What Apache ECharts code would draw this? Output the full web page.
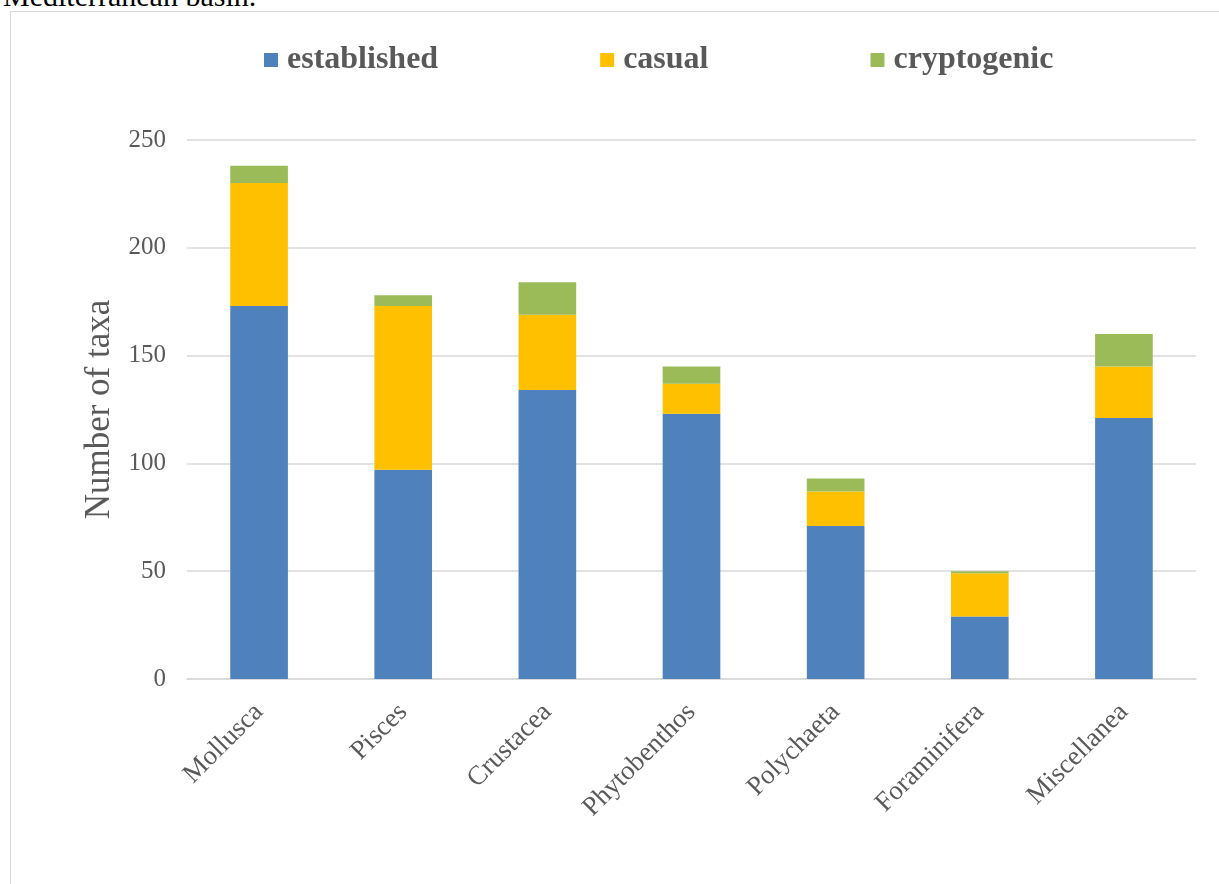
<!DOCTYPE html>
<html>
<head>
<meta charset="utf-8">
<script src="https://cdn.jsdelivr.net/npm/echarts@6/dist/echarts.min.js"></script>
<style>
  html, body { margin: 0; padding: 0; background: #fff; }
  #cap { position: absolute; left: 3px; top: -19px; font: 30px/30px "Liberation Serif", serif; color: #000; white-space: nowrap; }
  #frame { position: absolute; left: 10px; top: 11px; width: 1230px; height: 900px; border: 1px solid #d9d9d9; box-sizing: border-box; }
  #chart { position: absolute; left: 0; top: 0; width: 1219px; height: 884px; }
</style>
</head>
<body>
<div id="cap">Mediterranean basin.</div>
<div id="frame"></div>
<div id="chart"></div>
<script>
const categories = ['Mollusca', 'Pisces', 'Crustacea', 'Phytobenthos', 'Polychaeta', 'Foraminifera', 'Miscellanea'];
const established = [173, 97, 134, 123, 71, 29, 121];
const casual = [57, 76, 35, 14, 16, 20, 24];
const cryptogenic = [8, 5, 15, 8, 6, 1, 15];
const seriesNames = ['established', 'casual', 'cryptogenic'];
const colors = ['#4F81BD', '#FFC000', '#9BBB59'];

const font = '"Liberation Serif", "Times New Roman", serif';
const gray = '#595959';
const chart = echarts.init(document.getElementById('chart'), null, { renderer: 'canvas' });
const dataSets = [established, casual, cryptogenic];
chart.setOption({
  animation: false,
  backgroundColor: 'transparent',
  color: colors,
  legend: {
    left: 259, top: 39,
    itemWidth: 14, itemHeight: 14, itemGap: 162,
    icon: 'rect',
    data: seriesNames,
    textStyle: { fontFamily: font, fontWeight: 'bold', fontSize: 32, color: gray, padding: [0, 0, 0, 4] }
  },
  grid: { left: 187, right: 23, top: 140, bottom: 205, containLabel: false },
  xAxis: {
    type: 'category',
    data: categories,
    axisLine: { lineStyle: { color: '#d9d9d9', width: 1.5 } },
    axisTick: { show: false },
    axisLabel: { rotate: 45, fontFamily: font, fontSize: 27, color: gray, margin: 29, interval: 0 }
  },
  yAxis: {
    type: 'value',
    min: 0, max: 250, interval: 50,
    name: 'Number of taxa',
    nameLocation: 'middle',
    nameGap: 65,
    nameTextStyle: { fontFamily: font, fontSize: 35, color: gray },
    axisLine: { show: false },
    axisTick: { show: false },
    splitLine: { lineStyle: { color: '#d9d9d9', width: 1.5 } },
    axisLabel: { fontFamily: font, fontSize: 25, color: gray, margin: 21 }
  },
  series: seriesNames.map((n, i) => ({
    name: n,
    type: 'bar',
    stack: 'total',
    barWidth: '40%',
    data: dataSets[i],
    itemStyle: { color: colors[i] }
  }))
});
</script>
</body>
</html>
